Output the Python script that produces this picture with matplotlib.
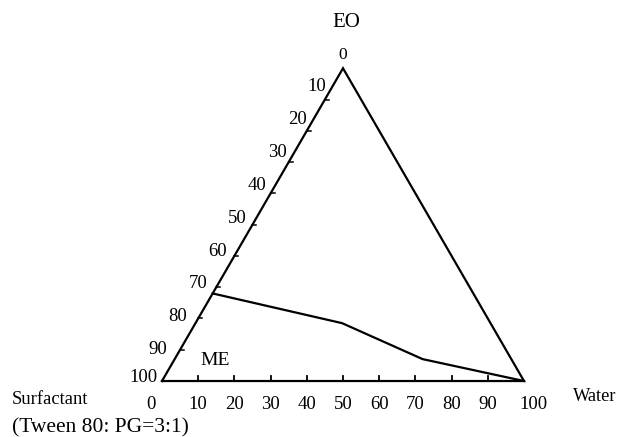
import numpy as np
import matplotlib
matplotlib.use("Agg")
import matplotlib.pyplot as plt

plt.rcParams["font.family"] = ["Liberation Serif", "DejaVu Serif"]

# ternary data (percent)
tick_values = [0, 10, 20, 30, 40, 50, 60, 70, 80, 90, 100]
# boundary of the ME region: EO % and Water % (surfactant = rest)
boundary_eo = [28.0, 18.5, 7.0, 0.0]
boundary_water = [0.0, 40.5, 68.5, 100.0]

H = np.sqrt(3) / 2
PX_X, PX_Y = 3.62, 3.61  # pixels per data unit


def to_xy(eo, water):
    eo = np.asarray(eo, dtype=float)
    water = np.asarray(water, dtype=float)
    return water + eo / 2, eo * H


fig = plt.figure(figsize=(6.18, 4.37), dpi=100)
ax = fig.add_axes([0, 0, 1, 1])
ax.set_xlim(-44.75, 125.97)
ax.set_ylim(-15.5, 105.5)
ax.axis("off")

# triangle
tx, ty = to_xy([0, 0, 100, 0], [0, 100, 0, 0])
ax.plot(tx, ty, color="black", lw=1.6, solid_joinstyle="miter")

fs = 13.5

# bottom axis ticks and labels
for v in tick_values:
    x, y = to_xy(0, v)
    if 0 < v < 100:
        ax.plot([x, x], [y, y + 1.4], color="black", lw=1.3)
    nudge = -3.0 if v == 0 else (2.5 if v == 100 else 0)
    ax.text(x + nudge, -6.5, str(v), ha="center", va="center", fontsize=fs)

# left axis ticks and labels (0 at apex, 100 at bottom-left)
for v in tick_values:
    x, y = to_xy(100 - v, 0)
    if 0 < v < 100:
        ax.plot([x, x + 1.1], [y, y], color="black", lw=1.1)
    if v == 0:
        ax.text(x, y + 3.6, "0", ha="center", va="center", fontsize=12.5)
    else:
        f = min((v - 10) / 80, 1.0)
        dx = (-8 - 14 * f) / PX_X
        dy = (13 - 13 * f) / PX_Y
        if v == 100:
            dx, dy = -19 / PX_X, 4 / PX_Y
        ax.text(x + dx, y + dy, str(v), ha="center", va="center", fontsize=fs)

# ME boundary
bx, by = to_xy(boundary_eo, boundary_water)
ax.plot(bx, by, color="black", lw=1.6)

ax.text(50.8, 99.4, "EO", ha="center", va="center", fontsize=15)
ax.text(14.6, 5.8, "ME", ha="center", va="center", fontsize=14)
ax.text(-41.4, -5.0, "Surfactant", ha="left", va="center", fontsize=13.4)
ax.text(-41.4, -13.0, "(Tween 80: PG=3:1)", ha="left", va="center", fontsize=15.5)
ax.text(113.5, -4.4, "Water", ha="left", va="center", fontsize=13.2)

fig.savefig("out.png", dpi=100)
